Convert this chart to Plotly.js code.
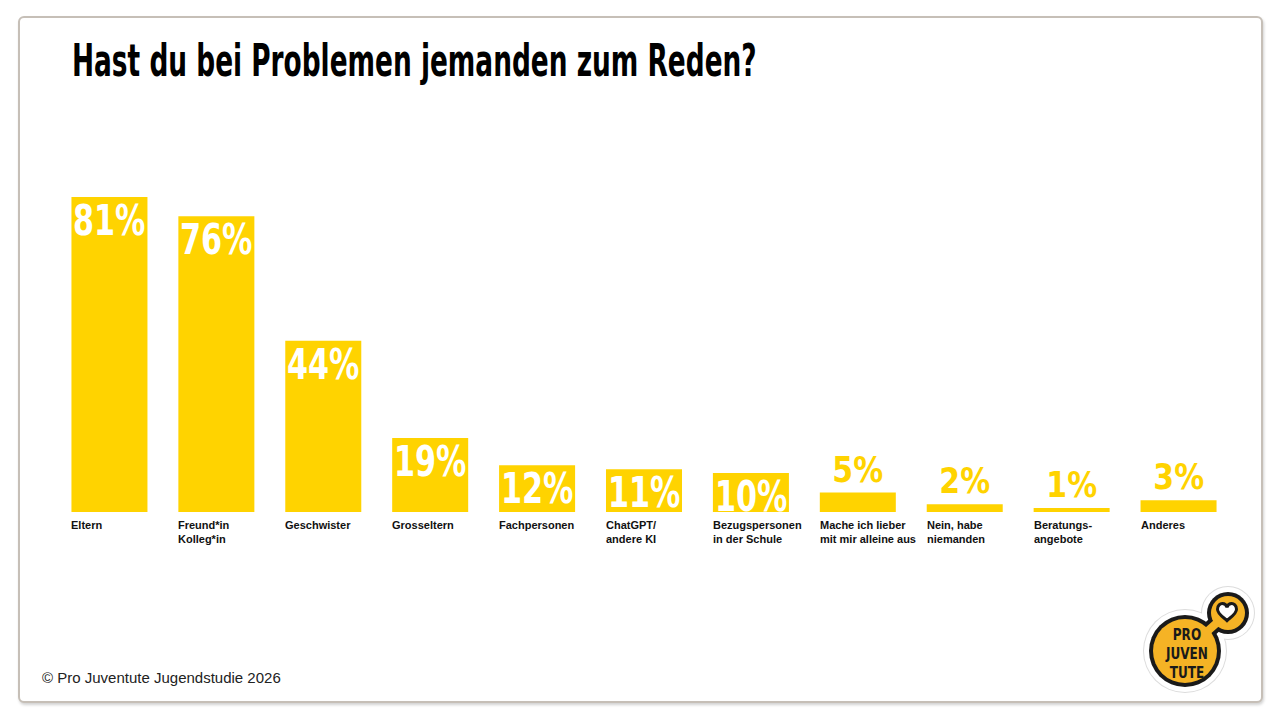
<!DOCTYPE html>
<html>
<head>
<meta charset="utf-8">
<script src="https://cdn.plot.ly/plotly-3.0.1.min.js"></script>
<style>
  html, body { margin:0; padding:0; background:#ffffff; }
  #wrap { position:relative; width:1280px; height:720px; overflow:hidden; }
  #frame { position:absolute; left:18px; top:16px; width:1241px; height:683px;
           border:2px solid #c6bfb7; border-radius:6px;
           box-shadow:1px 2px 3px rgba(0,0,0,0.18); background:#ffffff; }
  #chart { position:absolute; left:0; top:0; width:1280px; height:720px; }
</style>
</head>
<body>
<div id="wrap">
  <div id="frame"></div>
  <div id="chart"></div>
</div>
<script>
// ---- data ----
const categories = [
  "Eltern",
  "Freund*in<br>Kolleg*in",
  "Geschwister",
  "Grosseltern",
  "Fachpersonen",
  "ChatGPT/<br>andere KI",
  "Bezugspersonen<br>in der Schule",
  "Mache ich lieber<br>mit mir alleine aus",
  "Nein, habe<br>niemanden",
  "Beratungs-<br>angebote",
  "Anderes"
];
const values = [81, 76, 44, 19, 12, 11, 10, 5, 2, 1, 3];
const valueLabels = ["81%", "76%", "44%", "19%", "12%", "11%", "10%", "5%", "2%", "1%", "3%"];

const titleText = "Hast du bei Problemen jemanden zum Reden?";
const footerText = "© Pro Juventute Jugendstudie 2026";
const logoText = "PRO<br>JUVEN<br>TUTE";

// ---- styles ----
const YELLOW = "#FFD300";
const LOGO_YELLOW = "#F5B325";
const NARROW = "'DejaVu Sans Condensed', 'DejaVu Sans', sans-serif";
const SANS = "'Liberation Sans', Arial, Helvetica, sans-serif";

const M = { l: 56, r: 48, t: 123, b: 208 };
const W = 1280 - M.l - M.r, H = 720 - M.t - M.b;
const px = x => (x - M.l) / W;
const py = y => 1 - (y - M.t) / H;
const BAR_W = 0.711;

const annotations = [];

// value labels (indices 0..10)
values.forEach((v, i) => {
  const inside = v >= 10;
  annotations.push({
    x: i, y: v, xref: "x", yref: "y",
    text: valueLabels[i], showarrow: false,
    xanchor: "center", yanchor: inside ? "top" : "bottom",
    yshift: inside ? 3 : 1,
    font: { family: NARROW, size: inside ? 42 : 35, color: inside ? "#ffffff" : YELLOW, weight: 700 }
  });
});

// category labels (left aligned under each bar)
categories.forEach((c, i) => {
  annotations.push({
    x: i - BAR_W / 2, y: 0, xref: "x", yref: "y",
    text: c, showarrow: false, align: "left",
    xanchor: "left", yanchor: "top", yshift: -5, xshift: -2,
    font: { family: SANS, size: 11, color: "#111111", weight: 700 }
  });
});

// footer
annotations.push({
  x: px(40), y: py(677), xref: "paper", yref: "paper",
  text: footerText, showarrow: false, xanchor: "left", yanchor: "middle",
  font: { family: SANS, size: 15, color: "#222222" }
});

// logo text
const LOGO_IDX = annotations.length;
annotations.push({
  x: px(1186), y: py(653), xref: "paper", yref: "paper",
  text: logoText, showarrow: false, xanchor: "center", yanchor: "middle",
  font: { family: NARROW, size: 16, color: "#1a1a1a", weight: 700 }
});

// logo shapes
function circ(cx, cy, r, fill) {
  return { type: "circle", xref: "paper", yref: "paper", layer: "above",
    x0: px(cx - r), x1: px(cx + r), y0: py(cy + r), y1: py(cy - r),
    fillcolor: fill, line: { color: fill, width: 0 } };
}
function seg(x0, y0, x1, y1, color, w) {
  return { type: "line", xref: "paper", yref: "paper", layer: "above",
    x0: px(x0), y0: py(y0), x1: px(x1), y1: py(y1), line: { color: color, width: w } };
}
const B = { x: 1185, y: 651 }, S = { x: 1228, y: 613 };
const shapes = [
  circ(B.x, B.y, 42, "#dcdcdc"), circ(S.x, S.y, 27, "#dcdcdc"), seg(B.x, B.y, S.x, S.y, "#dcdcdc", 26),
  circ(B.x, B.y, 41, "#ffffff"), circ(S.x, S.y, 26, "#ffffff"), seg(B.x, B.y, S.x, S.y, "#ffffff", 24),
  circ(B.x, B.y, 36, "#1a1a1a"), circ(S.x, S.y, 21, "#1a1a1a"), seg(B.x, B.y, S.x, S.y, "#1a1a1a", 16),
  circ(B.x, B.y, 32, LOGO_YELLOW), circ(S.x, S.y, 17, LOGO_YELLOW), seg(B.x, B.y, S.x, S.y, LOGO_YELLOW, 8)
];
// heart
(function () {
  const cx = 1227, cy = 613, s = 0.95;
  const pts = [[0, 8], [-3, 5], [-10, 1], [-10, -4], [-10, -8], [-7, -10], [-5, -10], [-2.5, -10], [-0.5, -8], [0, -6],
    [0.5, -8], [2.5, -10], [5, -10], [7, -10], [10, -8], [10, -4], [10, 1], [3, 5], [0, 8]];
  const P = p => px(cx + p[0] * s) + "," + py(cy + p[1] * s);
  let d = "M" + P(pts[0]);
  for (let i = 1; i < pts.length; i += 3) d += " C" + P(pts[i]) + " " + P(pts[i + 1]) + " " + P(pts[i + 2]);
  d += " Z";
  shapes.push({ type: "path", xref: "paper", yref: "paper", layer: "above", path: d,
    fillcolor: "#ffffff", line: { color: "#1a1a1a", width: 3 } });
})();

const trace = {
  type: "bar", x: categories, y: values,
  marker: { color: YELLOW, line: { width: 0 } },
  hoverinfo: "skip"
};

const layout = {
  width: 1280, height: 720,
  margin: M,
  paper_bgcolor: "rgba(0,0,0,0)", plot_bgcolor: "rgba(0,0,0,0)",
  bargap: 1 - BAR_W,
  showlegend: false,
  title: {
    text: titleText, xref: "container", yref: "container",
    x: 72 / 1280, xanchor: "left", y: 1 - 60 / 720, yanchor: "middle",
    font: { family: NARROW, size: 45, color: "#000000", weight: 700 }
  },
  xaxis: { type: "category", range: [-0.5, 10.5], showticklabels: false, showgrid: false,
    zeroline: false, showline: false, ticks: "", fixedrange: true },
  yaxis: { range: [0, 100], showticklabels: false, showgrid: false, zeroline: false,
    showline: false, ticks: "", fixedrange: true },
  annotations: annotations,
  shapes: shapes
};

// horizontal condensing of the display-font texts (emulates a condensed typeface)
function squeeze(el, kx, ky, anchor, dy) {
  if (!el) return;
  const bb = el.getBBox();
  const ox = anchor === "left" ? bb.x : bb.x + bb.width / 2;
  const oy = bb.y + bb.height / 2;
  const prev = el.getAttribute("transform") || "";
  el.setAttribute("transform",
    prev + " translate(0," + (dy || 0) + ") translate(" + ox + "," + oy + ") scale(" + kx + "," + ky + ") translate(" + (-ox) + "," + (-oy) + ")");
}

Plotly.newPlot("chart", [trace], layout, { staticPlot: true, displayModeBar: false }).then(gd => {
  const t = gd.querySelector(".g-gtitle text.gtitle");
  if (t) squeeze(t, 685 / t.getBBox().width, 1, "left");
  values.forEach((v, i) => {
    const el = gd.querySelector('.annotation[data-index="' + i + '"] text.annotation-text');
    squeeze(el, v >= 10 ? 0.8 : 0.95, 1, "center");
  });
  const lg = gd.querySelector('.annotation[data-index="' + LOGO_IDX + '"] text.annotation-text');
  if (lg) {
    const b0 = lg.getBBox();
    const lines = lg.querySelectorAll("tspan.line");
    lines.forEach(ln => {
      const d = ln.getAttribute("dy");
      if (d && d.indexOf("em") > 0) {
        const v = parseFloat(d);
        if (v > 0) ln.setAttribute("dy", (v * 1.17 / 1.3) + "em");
      }
    });
    const b1 = lg.getBBox();
    const shift = (b0.y + b0.height / 2) - (b1.y + b1.height / 2);
    squeeze(lg, 0.84, 1, "center", shift);
  }
});
</script>
</body>
</html>
